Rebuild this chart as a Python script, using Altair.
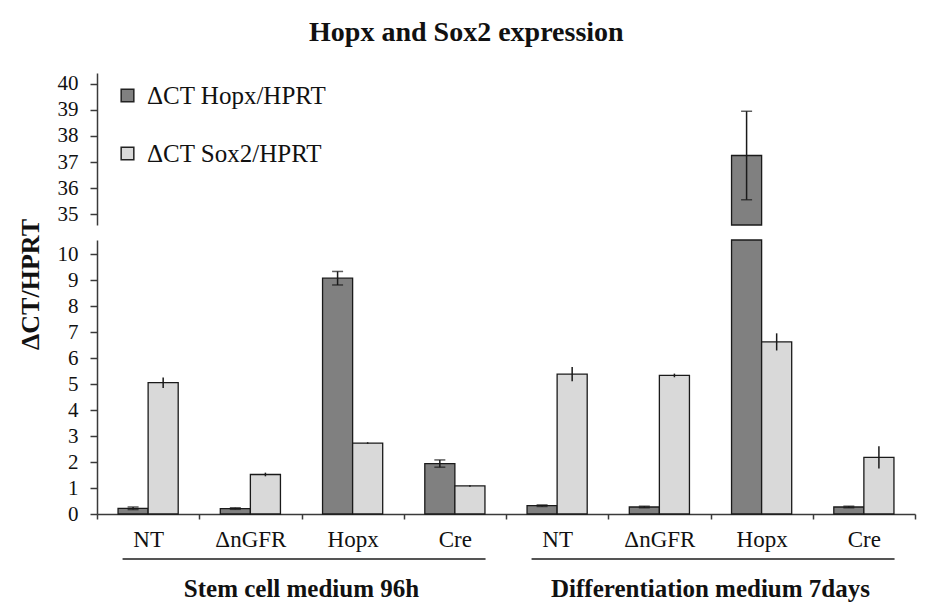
import altair as alt
import pandas as pd

# qPCR results: delta CT relative to HPRT, mean and error per condition
conditions = ["NT", "ΔnGFR", "Hopx", "Cre", "NT", "ΔnGFR", "Hopx", "Cre"]
media = ["Stem cell medium 96h"] * 4 + ["Differentiation medium 7days"] * 4
hopx_mean = [0.22, 0.21, 9.07, 1.94, 0.32, 0.27, 37.25, 0.27]
hopx_err = [0.05, 0.03, 0.26, 0.14, 0.03, 0.03, 1.70, 0.03]
sox2_mean = [5.05, 1.52, 2.73, 1.08, 5.38, 5.33, 6.62, 2.18]
sox2_err = [0.20, 0.07, 0.03, 0.03, 0.27, 0.07, 0.33, 0.43]

series_names = ["ΔCT Hopx/HPRT", "ΔCT Sox2/HPRT"]
series_colors = ["#808080", "#d9d9d9"]
group_titles = ["Stem cell medium 96h", "Differentiation medium 7days"]

# broken y axis: lower segment 0..10, upper segment 35..40
LOW_MAX = 10.54
HIGH_MIN = 34.58
HIGH_MAX = 40.42

keys = [f"{i // 4}|{c}" for i, c in enumerate(conditions)]

rows = []
for k, c, m, hm, he, sm, se in zip(keys, conditions, media,
                                   hopx_mean, hopx_err, sox2_mean, sox2_err):
    for name, v, e in ((series_names[0], hm, he), (series_names[1], sm, se)):
        rows.append(dict(key=k, condition=c, medium=m, series=name,
                         value=v, lo=v - e, hi=v + e))
df = pd.DataFrame(rows)

groups = pd.DataFrame({
    "medium": group_titles,
    "start": [keys[0], keys[4]],
    "mid": [keys[1], keys[5]],
    "end": [keys[3], keys[7]],
})

SERIF = "Liberation Serif"
INK = "#111111"
AXC = "#3a3a3a"
W = 818

x_scale = alt.Scale(domain=keys, paddingInner=0, paddingOuter=0)
xoff_scale = alt.Scale(domain=series_names, paddingInner=0, paddingOuter=0.7)
color_scale = alt.Scale(domain=series_names, range=series_colors)

legend = alt.Legend(
    title=None, orient="none", legendX=18, legendY=10,
    symbolType="square", symbolSize=160, symbolStrokeColor="#222222",
    symbolStrokeWidth=1.5, labelFont=SERIF, labelFontSize=25, labelLimit=0,
    labelColor=INK, rowPadding=32, labelOffset=7, padding=0,
)


def y_axis(values, **kw):
    return alt.Axis(values=values, grid=False, domainColor=AXC, domainWidth=1.5,
                    tickColor=AXC, tickWidth=1.5, tickSize=7, labelPadding=12,
                    labelFont=SERIF, labelFontSize=21, labelColor=INK, **kw)


def panel(y_scale, y_ax, x_ax, keep, keep_err, keep_cap, base_y2):
    data = alt.Chart(df)
    x_enc = alt.X("key:N", scale=x_scale, axis=x_ax, title=None)
    xo_enc = alt.XOffset("series:N", scale=xoff_scale)

    bars = data.transform_filter(keep).mark_bar(
        stroke="#1a1a1a", strokeWidth=1.3
    ).encode(
        x=x_enc,
        xOffset=xo_enc,
        y=alt.Y("value:Q", scale=y_scale, axis=y_ax),
        y2=base_y2,
        color=alt.Color("series:N", scale=color_scale, legend=legend),
    )

    err = data.transform_filter(keep_err).mark_rule(
        color="#1a1a1a", strokeWidth=1.5
    ).encode(
        x=x_enc,
        xOffset=xo_enc,
        y=alt.Y("lo:Q", scale=y_scale, axis=y_ax),
        y2="hi:Q",
    )

    # capped whiskers on the Hopx series only
    caps = data.transform_filter(
        alt.datum.series == series_names[0]
    ).transform_fold(
        ["lo", "hi"], as_=["end", "cap"]
    ).transform_filter(keep_cap).mark_tick(
        color="#1a1a1a", size=11, thickness=1.5
    ).encode(
        x=x_enc,
        xOffset=xo_enc,
        y=alt.Y("cap:Q", scale=y_scale, axis=y_ax),
    )
    return [bars, err, caps]


# upper segment
up_scale = alt.Scale(domain=[HIGH_MIN, HIGH_MAX], nice=False, zero=False, clamp=True)
up_layers = panel(
    up_scale, y_axis([35, 36, 37, 38, 39, 40], title=None), None,
    f"datum.value > {HIGH_MIN}", f"datum.hi > {HIGH_MIN}",
    f"datum.cap > {HIGH_MIN}", alt.datum(HIGH_MIN),
)
upper = alt.layer(*up_layers).properties(width=W, height=152)

# lower segment
low_scale = alt.Scale(domain=[0, LOW_MAX], nice=False, clamp=True)
low_y_axis = y_axis(
    list(range(0, 11)), title="ΔCT/HPRT", titleFont=SERIF, titleFontSize=26,
    titleFontWeight="bold", titleColor=INK, titleAngle=270, titleX=-59,
    titleY=44, titleAlign="center", titleBaseline="alphabetic",
)
low_x_axis = alt.Axis(
    title=None, labelExpr="split(datum.label, '|')[1]", labelAngle=0,
    tickBand="extent", domainColor=AXC, domainWidth=1.5, tickColor=AXC,
    tickWidth=1.5, tickSize=5, labelPadding=9, labelFont=SERIF,
    labelFontSize=23, labelColor=INK,
)
low_layers = panel(
    low_scale, low_y_axis, low_x_axis,
    "datum.value > -1", f"datum.lo < {LOW_MAX}", f"datum.cap < {LOW_MAX}",
    alt.datum(0),
)

# brackets and titles under each medium group
group_lines = alt.Chart(groups).mark_rule(color="#555555", strokeWidth=2).encode(
    x=alt.X("start:N", scale=x_scale, bandPosition=0.25, axis=low_x_axis),
    x2=alt.X2("end:N", bandPosition=0.8),
    y=alt.value(319),
)
group_text = alt.Chart(groups).mark_text(
    font=SERIF, fontSize=25, fontWeight="bold", baseline="alphabetic", color=INK
).encode(
    x=alt.X("mid:N", scale=x_scale, bandPosition=1.0, axis=low_x_axis),
    y=alt.value(357),
    text="medium:N",
)

lower = alt.layer(*low_layers, group_lines, group_text).properties(width=W, height=274)

chart = alt.vconcat(upper, lower, spacing=15, bounds="flush").properties(
    title=alt.TitleParams(
        "Hopx and Sox2 expression", font=SERIF, fontSize=28, fontWeight="bold",
        color=INK, anchor="middle", frame="bounds", offset=26,
    ),
    padding={"left": 16, "top": 18, "right": 5, "bottom": 5},
    background="white",
).configure(
    font=SERIF,
    view=alt.ViewConfig(stroke=None),
    axis=alt.AxisConfig(labelFont=SERIF, titleFont=SERIF),
    legend=alt.LegendConfig(labelFont=SERIF),
    text=alt.MarkConfig(font=SERIF),
)

chart.save("out.html", embed_options={"renderer": "svg", "actions": False})
